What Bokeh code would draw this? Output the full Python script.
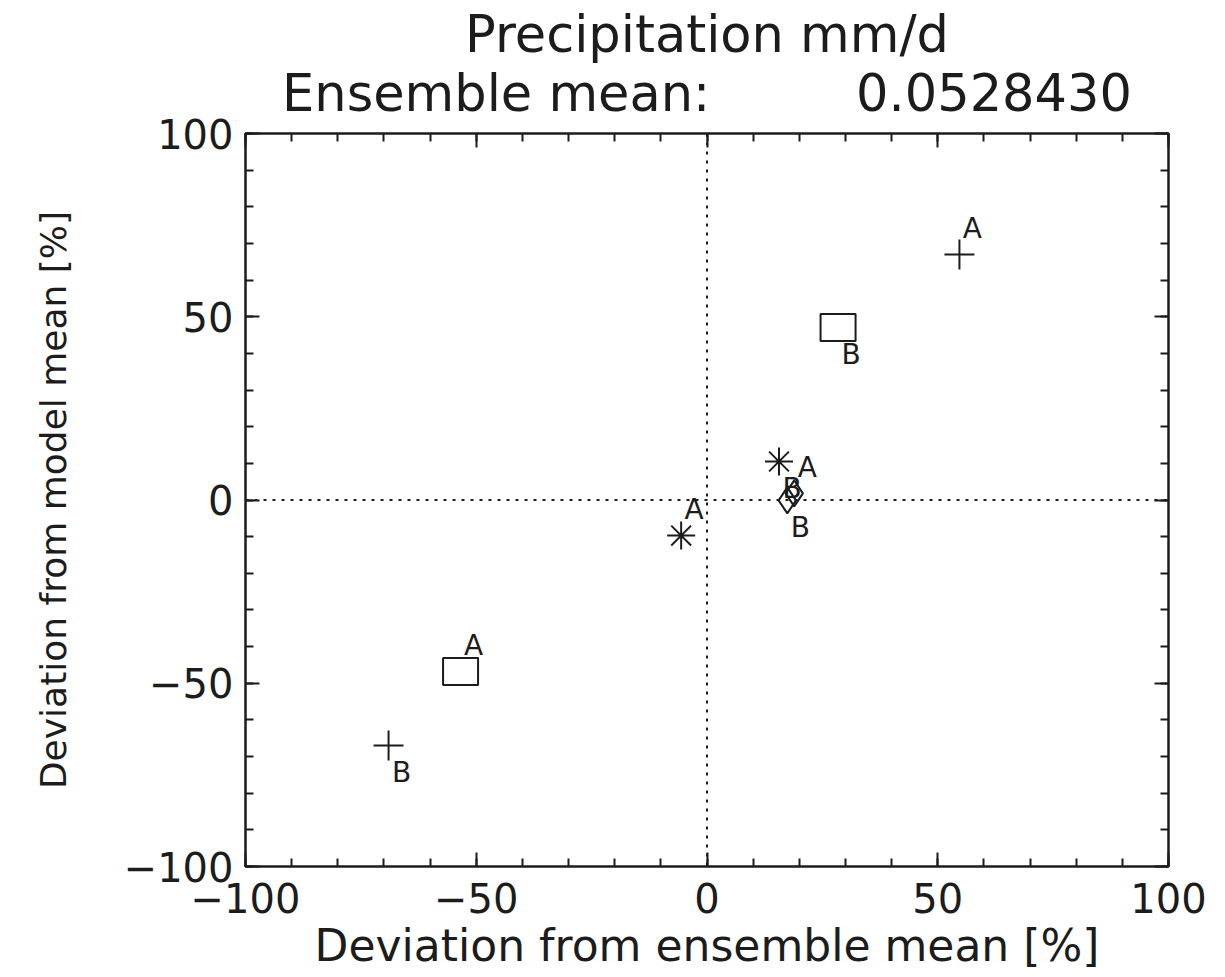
from bokeh.plotting import figure
from bokeh.models import (Range1d, SingleIntervalTicker, LinearAxis, Span, Title,
                          ColumnDataSource)
from bokeh.embed import file_html
from bokeh.resources import INLINE

# ---- data ----
plus_x = [54.7, -69.0]
plus_y = [67.0, -67.0]
plus_lbl = ["A", "B"]

square_x = [-53.4, 28.4]
square_y = [-46.8, 47.1]
square_lbl = ["A", "B"]

star_x = [-5.6, 15.6]
star_y = [-9.7, 10.5]
star_lbl = ["A", "B"]

diam_x = [18.9, 17.4]
diam_y = [1.8, -0.1]
diam_lbl = ["A", "B"]

title_line1 = "Precipitation mm/d"
title_line2 = "Ensemble mean:" + "\u00a0" * 9 + "0.0528430"
x_label = "Deviation from ensemble mean [%]"
y_label = "Deviation from model mean [%]"

FONT = "DejaVu Sans"
INK = "#1c1c1c"

p = figure(width=1225, height=977, output_backend="svg", toolbar_location=None,
           x_range=Range1d(-100, 100), y_range=Range1d(-100, 100),
           min_border_left=245, min_border_right=57, min_border_top=133,
           min_border_bottom=111, background_fill_color="white",
           border_fill_color="white")
p.grid.visible = False
p.outline_line_color = INK
p.outline_line_width = 2


def style_axis(ax, show_labels=True):
    ax.ticker = SingleIntervalTicker(interval=50, num_minor_ticks=5)
    ax.axis_line_color = INK
    ax.axis_line_width = 2
    ax.major_tick_line_color = INK
    ax.minor_tick_line_color = INK
    ax.major_tick_line_width = 2
    ax.minor_tick_line_width = 2
    ax.major_tick_in = 14
    ax.major_tick_out = 0
    ax.minor_tick_in = 8
    ax.minor_tick_out = 0
    ax.major_label_text_font = FONT
    if show_labels:
        ax.major_label_text_color = INK
        ax.major_label_text_font_size = "40px"
    else:
        ax.major_label_text_color = None
        ax.major_label_text_font_size = "0px"
        ax.major_label_standoff = 0


xa = p.xaxis[0]
ya = p.yaxis[0]
style_axis(xa)
style_axis(ya)
xa.major_label_standoff = 16
ya.major_label_standoff = 12
ya.major_label_orientation = "horizontal"
xa.axis_label = x_label
ya.axis_label = y_label
for ax, fs in ((xa, "44px"), (ya, "36px")):
    ax.axis_label_text_font = FONT
    ax.axis_label_text_font_size = fs
    ax.axis_label_text_font_style = "normal"
    ax.axis_label_text_color = INK
xa.axis_label_standoff = 4
ya.axis_label_standoff = 47

top = LinearAxis()
style_axis(top, show_labels=False)
p.add_layout(top, "above")
right = LinearAxis()
style_axis(right, show_labels=False)
p.add_layout(right, "right")

# two-line title
t2 = Title(text=title_line2, align="center", offset=16, text_font=FONT,
           text_font_size="51px", text_font_style="normal", text_color=INK,
           standoff=22)
t1 = Title(text=title_line1, align="center", offset=5, text_font=FONT,
           text_font_size="51px", text_font_style="normal", text_color=INK,
           standoff=-27)
p.add_layout(t2, "above")
p.add_layout(t1, "above")

# zero lines
p.add_layout(Span(location=0, dimension="height", line_color=INK,
                  line_dash="3 6", line_width=2))
p.add_layout(Span(location=0, dimension="width", line_color=INK,
                  line_dash="3 6", line_width=2))

# markers
p.scatter(plus_x, plus_y, marker="cross", size=30, line_color=INK, line_width=2)
p.rect(square_x, square_y, width=35, height=27, width_units="screen",
       height_units="screen", fill_color=None, line_color=INK, line_width=2)
p.scatter(star_x, star_y, marker="asterisk", size=28, line_color=INK, line_width=2)
p.scatter(diam_x, diam_y, marker="diamond", size=26, fill_color=None,
          line_color=INK, line_width=2)

# point labels
all_x = plus_x + square_x + star_x + diam_x
all_y = plus_y + square_y + star_y + diam_y
all_l = plus_lbl + square_lbl + star_lbl + diam_lbl
src = ColumnDataSource(dict(
    x=all_x, y=all_y, t=all_l,
    dx=[13] * len(all_l),
    dy=[-26 if t == "A" else 27 for t in all_l],
))
p.text("x", "y", text="t", x_offset="dx", y_offset="dy", source=src,
       text_font={"value": FONT}, text_font_size="28px", text_color=INK,
       text_align="center", text_baseline="middle")

open("out.html", "w").write(file_html(p, INLINE))
